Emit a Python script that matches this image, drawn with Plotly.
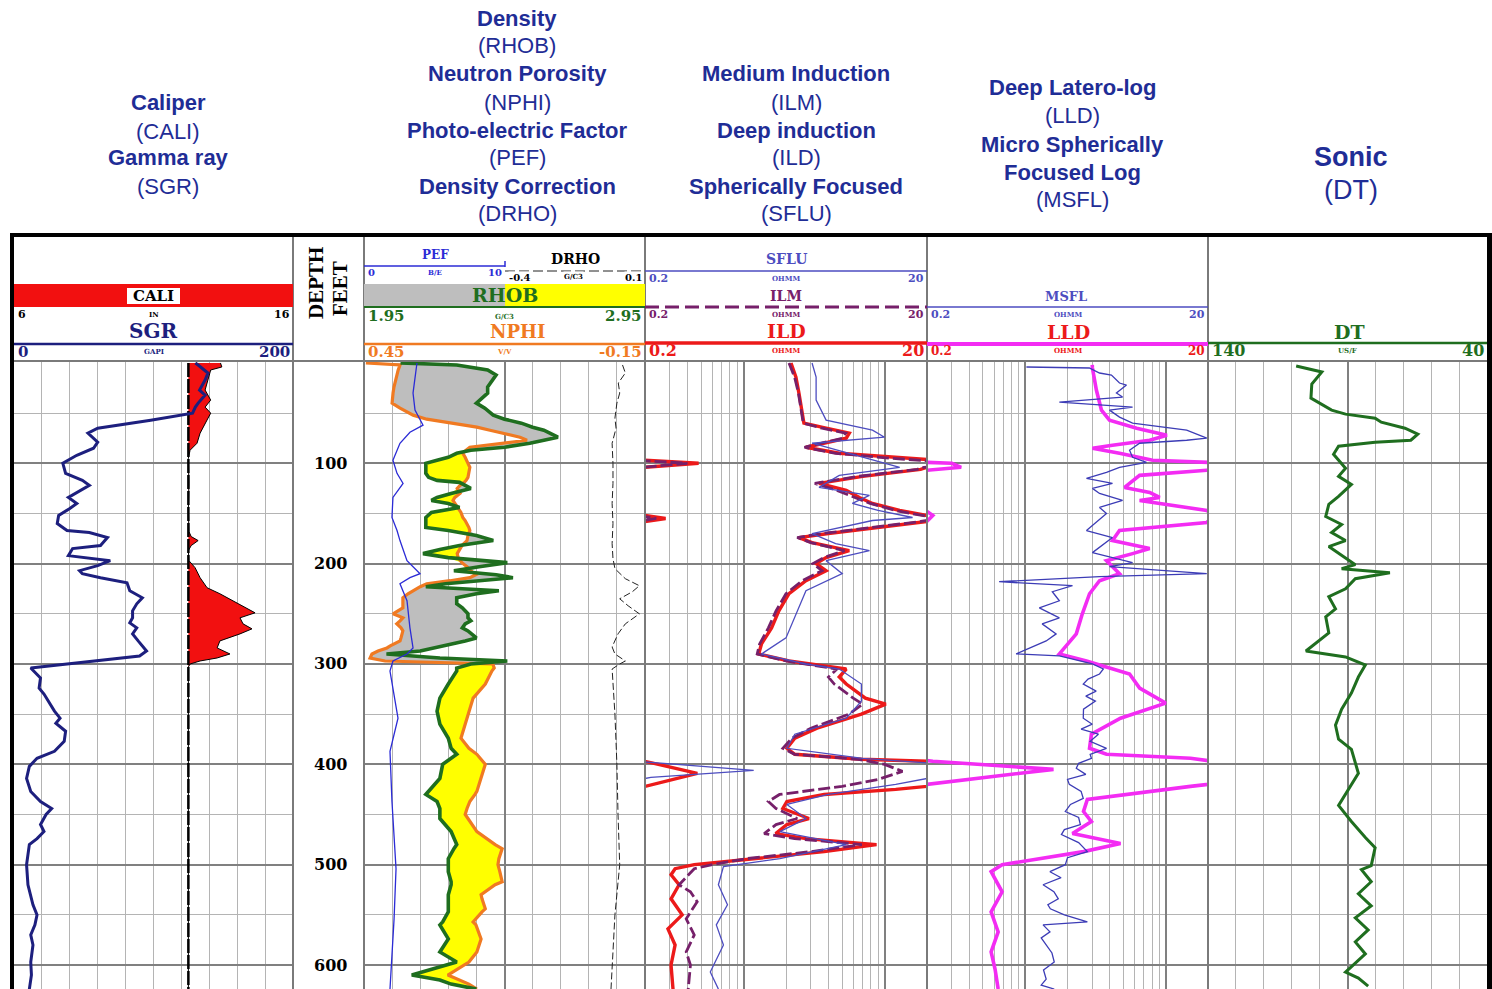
import math
import plotly.graph_objects as go

# ------------------------------------------------------------------
# Log readings: (depth ft, value)
# ------------------------------------------------------------------
SGR = [(0, 130), (2, 132), (10, 139), (17, 137), (27, 133), (32, 137), (40, 132), (44, 130), (50, 128),
       (57, 98), (65, 60), (70, 53), (79, 60), (85, 57), (92, 45), (100, 35), (110, 37), (117, 49),
       (122, 54), (129, 45), (134, 39), (140, 45), (145, 40), (152, 32), (160, 31), (167, 38), (169, 54),
       (174, 67), (182, 62), (185, 42), (192, 39), (197, 69), (202, 60), (207, 47), (210, 49), (214, 62),
       (219, 81), (227, 83), (234, 92), (240, 88), (247, 85), (254, 85), (259, 83), (264, 88), (270, 85),
       (277, 89), (287, 95), (292, 90), (304, 12), (314, 19), (324, 18), (330, 21.5), (347, 29), (354, 33),
       (359, 30), (367, 37), (377, 36), (387, 29), (394, 16.5), (402, 11), (414, 9), (427, 12), (437, 19),
       (444, 27), (450, 23), (460, 19), (467, 21.5), (474, 16.5), (480, 11), (500, 9), (520, 10),
       (540, 13.6), (550, 16.5), (560, 15), (570, 12), (580, 13.6), (597, 12), (610, 12.5), (624, 11)]

CALI = [(0, 13.4), (4, 13.45), (7, 13.05), (17, 12.95), (27, 12.85), (37, 13.05), (44, 12.85), (50, 13.05),
        (60, 12.85), (70, 12.67), (80, 12.56), (87, 12.31), (95, 12.25), (120, 12.27), (145, 12.25),
        (168, 12.27), (173, 12.35), (177, 12.6), (182, 12.35), (187, 12.25), (197, 12.27), (204, 12.49),
        (214, 12.67), (224, 12.92), (230, 13.38), (237, 13.85), (244, 14.35), (249, 14.64), (254, 14.1),
        (260, 14.21), (265, 14.53), (270, 14.1), (277, 13.38), (284, 13.28), (290, 13.74), (294, 13.28),
        (297, 12.67), (300, 12.31), (303, 12.25), (400, 12.26), (500, 12.25), (624, 12.25)]
BIT_SIZE = 12.25

RHOB = [(0, 2.08), (2, 2.28), (7, 2.39), (12, 2.42), (24, 2.39), (30, 2.39), (40, 2.35), (45, 2.38),
        (52, 2.41), (56, 2.45), (60, 2.51), (64, 2.55), (67, 2.59), (70, 2.61), (74, 2.64), (77, 2.59),
        (80, 2.54), (84, 2.45), (87, 2.33), (90, 2.28), (94, 2.25), (97, 2.21), (100, 2.17), (104, 2.17),
        (110, 2.17), (114, 2.18), (117, 2.21), (119, 2.29), (122, 2.31), (125, 2.33), (130, 2.26),
        (134, 2.21), (137, 2.19), (140, 2.25), (144, 2.29), (147, 2.22), (149, 2.19), (154, 2.17),
        (157, 2.17), (164, 2.17), (167, 2.25), (172, 2.35), (177, 2.41), (182, 2.29), (186, 2.22),
        (190, 2.16), (194, 2.25), (199, 2.46), (203, 2.36), (207, 2.27), (211, 2.42), (214, 2.48),
        (217, 2.36), (220, 2.24), (223, 2.17), (227, 2.43), (230, 2.35), (234, 2.28), (240, 2.28),
        (244, 2.30), (250, 2.32), (254, 2.32), (257, 2.33), (260, 2.31), (264, 2.30), (267, 2.32),
        (274, 2.35), (277, 2.31), (282, 2.23), (284, 2.20), (287, 2.15), (290, 2.03), (294, 2.22),
        (297, 2.46), (300, 2.33), (304, 2.28), (307, 2.28), (320, 2.25), (334, 2.22), (347, 2.21),
        (360, 2.22), (374, 2.25), (384, 2.26), (390, 2.28), (400, 2.23), (414, 2.22), (427, 2.18),
        (430, 2.17), (437, 2.21), (444, 2.22), (450, 2.22), (454, 2.22), (467, 2.26), (480, 2.28),
        (484, 2.27), (494, 2.25), (500, 2.25), (507, 2.25), (517, 2.26), (520, 2.26), (530, 2.25),
        (534, 2.25), (544, 2.25), (547, 2.25), (557, 2.23), (560, 2.22), (574, 2.25), (587, 2.22),
        (597, 2.28), (610, 2.12), (615, 2.22), (619, 2.26), (624, 2.35)]

NPHI = [(0, 0.446), (2, 0.373), (7, 0.377), (12, 0.380), (24, 0.386), (30, 0.388), (40, 0.390), (45, 0.373),
        (52, 0.345), (56, 0.316), (60, 0.260), (64, 0.209), (67, 0.181), (70, 0.155), (74, 0.117),
        (77, 0.102), (80, 0.160), (84, 0.224), (87, 0.232), (90, 0.239), (94, 0.234), (97, 0.230),
        (100, 0.228), (104, 0.224), (110, 0.226), (114, 0.228), (117, 0.232), (119, 0.236), (122, 0.245),
        (125, 0.251), (130, 0.245), (134, 0.256), (137, 0.260), (140, 0.256), (144, 0.249), (147, 0.245),
        (149, 0.243), (154, 0.239), (157, 0.234), (164, 0.226), (167, 0.224), (172, 0.228), (177, 0.230),
        (182, 0.241), (186, 0.247), (190, 0.251), (194, 0.249), (199, 0.241), (203, 0.230), (207, 0.222),
        (211, 0.211), (214, 0.224), (217, 0.266), (220, 0.316), (223, 0.330), (227, 0.345), (230, 0.356),
        (234, 0.367), (240, 0.367), (244, 0.367), (250, 0.388), (254, 0.367), (257, 0.373), (260, 0.380),
        (264, 0.371), (267, 0.367), (274, 0.371), (277, 0.373), (282, 0.394), (284, 0.401), (287, 0.420),
        (290, 0.433), (294, 0.437), (297, 0.405), (300, 0.175), (304, 0.172), (307, 0.177), (320, 0.191),
        (334, 0.217), (347, 0.226), (360, 0.234), (374, 0.243), (384, 0.226), (390, 0.209), (400, 0.191),
        (414, 0.200), (427, 0.209), (430, 0.213), (437, 0.224), (444, 0.230), (450, 0.234), (454, 0.228),
        (467, 0.209), (480, 0.170), (484, 0.155), (494, 0.162), (500, 0.164), (507, 0.160), (517, 0.155),
        (520, 0.170), (530, 0.200), (534, 0.198), (544, 0.191), (547, 0.198), (557, 0.217), (560, 0.211),
        (574, 0.200), (587, 0.209), (597, 0.226), (610, 0.271), (615, 0.245), (619, 0.226), (624, 0.209)]

PEF = [(0, 3.77), (30, 3.49), (47, 3.63), (62, 4.2), (69, 3.27), (80, 2.56), (97, 2.06), (110, 2.35),
       (120, 2.78), (134, 2.06), (154, 1.99), (167, 2.35), (177, 2.56), (197, 3.06), (210, 3.99),
       (214, 3.27), (220, 2.56), (237, 3.06), (264, 3.27), (284, 3.49), (290, 3.06), (297, 2.06),
       (307, 1.85), (354, 2.42), (387, 1.85), (437, 1.99), (504, 2.28), (554, 2.14), (624, 1.85)]

DRHO = [(2, 0.02), (10, 0.03), (20, 0.005), (30, 0.01), (40, 0.0), (55, -0.007), (65, -0.003), (80, -0.017),
        (100, -0.014), (120, -0.014), (140, -0.017), (160, -0.014), (180, -0.017), (195, -0.014),
        (205, -0.007), (215, 0.03), (222, 0.08), (228, 0.055), (235, 0.01), (242, 0.04), (250, 0.08),
        (260, 0.03), (270, 0.004), (283, -0.017), (290, -0.007), (297, 0.03), (300, 0.01), (305, -0.017),
        (350, -0.007), (400, 0.0), (450, 0.004), (500, 0.01), (550, -0.007), (600, -0.017), (624, -0.021)]

ILD = [(0, 2.17), (14, 2.35), (30, 2.47), (47, 2.6), (60, 2.68), (65, 3.85), (70, 5.62), (75, 5.35),
       (84, 2.77), (90, 4.77), (95, 12.8), (97, 20), (100, 48), (104, 20), (106, 18), (113, 7), (120, 3.43),
       (127, 5.35), (134, 6.63), (140, 8.21), (147, 12.8), (152, 20), (155, 28), (158, 20), (163, 10),
       (170, 4), (174, 2.47), (179, 3.06), (187, 5.62), (194, 3.85), (200, 3.27), (207, 3.85), (217, 2.77),
       (230, 2.1), (247, 1.78), (264, 1.58), (280, 1.34), (290, 1.28), (297, 2.1), (305, 5.35), (313, 4.77),
       (320, 5.35), (334, 7.31), (340, 10.2), (350, 6.85), (364, 3.32), (374, 2.31), (384, 2.03),
       (390, 2.31), (395, 6.85), (397, 20), (409, 47), (422, 20), (425, 12), (430, 3.73), (437, 2.03),
       (444, 1.9), (454, 2.91), (460, 2.03), (469, 1.69), (474, 2.77), (480, 8.77), (487, 3.73),
       (494, 1.10), (500, 0.447), (504, 0.327), (510, 0.306), (520, 0.349), (534, 0.306), (550, 0.367),
       (564, 0.291), (580, 0.327), (600, 0.306), (624, 0.316)]

ILM = [(0, 2.1), (14, 2.3), (30, 2.45), (47, 2.55), (60, 2.65), (65, 3.6), (70, 5.3), (75, 5.0), (84, 2.7),
       (90, 4.5), (95, 11), (97, 18), (100, 40), (104, 19), (106, 17), (113, 6.5), (120, 3.2), (127, 4.6),
       (134, 6.2), (140, 7.9), (147, 12), (152, 18), (155, 24), (158, 18), (163, 9), (170, 3.6), (174, 2.4),
       (179, 3.0), (187, 5.2), (194, 3.7), (200, 3.1), (207, 3.6), (217, 2.6), (230, 2.0), (247, 1.7),
       (264, 1.5), (280, 1.3), (290, 1.25), (297, 2.0), (305, 4.6), (313, 4.0), (320, 4.4), (334, 6.0),
       (340, 7.0), (350, 5.6), (364, 3.0), (374, 2.2), (384, 1.9), (390, 2.3), (395, 6.5), (400, 10),
       (407, 13.4), (415, 9), (422, 5), (430, 1.8), (437, 1.5), (444, 1.7), (454, 2.4), (460, 1.7),
       (469, 1.4), (474, 2.3), (480, 6.9), (487, 3.0), (494, 1.05), (500, 0.6), (504, 0.447), (520, 0.349),
       (527, 0.42), (537, 0.469), (554, 0.392), (570, 0.447), (587, 0.392), (600, 0.42), (624, 0.405)]

SFLU = [(0, 3.06), (14, 3.27), (37, 3.27), (57, 3.85), (67, 8.21), (74, 10), (80, 3.06), (90, 5.5), (97, 8.21),
        (104, 12.8), (112, 4.77), (124, 3.43), (132, 7.81), (140, 5.91), (147, 9), (154, 15.8), (157, 8.21),
        (170, 3.06), (180, 4.5), (187, 7.81), (197, 3.85), (210, 5.01), (227, 2.77), (250, 2.35), (274, 2.0),
        (290, 1.34), (300, 2.77), (305, 4.77), (320, 6.85), (337, 6.85), (354, 5.35), (370, 2.31),
        (384, 2.03), (394, 7), (398, 22), (406, 118), (413, 22), (420, 12), (430, 4), (440, 2.03),
        (454, 2.77), (467, 1.81), (480, 5.35), (494, 1.81), (502, 0.72), (520, 0.663), (540, 0.769),
        (560, 0.641), (580, 0.72), (607, 0.581), (624, 0.663)]

LLD = [(2, 3.0), (5, 3.01), (27, 3.21), (47, 3.49), (57, 3.98), (65, 6.21), (72, 10.2), (77, 7.69), (82, 4.18),
       (85, 3.01), (90, 4.69), (97, 8.07), (100, 30), (104, 35), (107, 19.6), (112, 6.52), (124, 5.1),
       (129, 7.69), (134, 9.06), (137, 6.52), (147, 19.6), (152, 22), (159, 19.6), (167, 4.69), (177, 4.18),
       (185, 7.69), (190, 5.81), (197, 3.79), (210, 4.69), (217, 3.38), (230, 2.87), (250, 2.55),
       (270, 2.31), (290, 1.75), (297, 2.73), (310, 5.53), (324, 6.52), (339, 10.0), (354, 4.77),
       (370, 2.96), (384, 2.87), (390, 3.79), (394, 15), (397, 22), (405, 159), (419, 22), (422, 15),
       (435, 2.77), (447, 2.6), (457, 2.96), (469, 2.17), (479, 4.77), (487, 2.6), (500, 0.685),
       (507, 0.572), (527, 0.685), (547, 0.572), (567, 0.642), (587, 0.572), (604, 0.61), (624, 0.642)]

MSFL = [(4, 1.02), (5, 2.86), (10, 3.38), (12, 4.11), (20, 4.69), (22, 5.26), (30, 4.46), (34, 4.93), (39, 1.75),
        (44, 5.81), (47, 3.98), (54, 4.69), (60, 5.81), (67, 14.1), (75, 19.6), (77, 14.1), (80, 6.52),
        (87, 5.53), (94, 5.81), (99, 7.3), (104, 4.69), (109, 3.79), (115, 2.73), (120, 4.18), (125, 3.01),
        (130, 3.38), (137, 4.93), (144, 3.38), (150, 3.79), (167, 2.73), (174, 4.18), (189, 3.01),
        (199, 5.81), (203, 3.98), (210, 19.6), (213, 3.38), (218, 0.652), (222, 2.17), (228, 1.56),
        (237, 1.75), (244, 1.26), (254, 1.75), (260, 1.32), (270, 1.66), (277, 1.41), (290, 0.862),
        (292, 1.75), (300, 3.01), (305, 3.6), (310, 3.38), (315, 2.8), (320, 2.59), (327, 3.2), (332, 2.7),
        (337, 3.16), (345, 2.6), (354, 2.59), (360, 3.0), (365, 2.5), (370, 3.32), (377, 2.9), (384, 3.79),
        (390, 2.9), (394, 2.96), (399, 2.4), (404, 2.31), (410, 2.7), (415, 2.0), (420, 2.06), (427, 2.5),
        (434, 2.59), (440, 2.1), (447, 1.93), (453, 2.4), (460, 2.47), (465, 1.9), (470, 1.81), (478, 2.4),
        (487, 2.77), (493, 2.0), (500, 1.93), (507, 1.5), (513, 1.8), (520, 1.34), (527, 1.6), (534, 1.72),
        (540, 1.45), (544, 1.51), (550, 1.9), (557, 2.77), (560, 1.34), (567, 1.5), (573, 1.3), (580, 1.41),
        (588, 1.55), (597, 1.61), (605, 1.35), (614, 1.41), (620, 1.3), (624, 1.61)]

DT = [(3, 108.4), (9, 99.2), (21, 102.8), (35, 103.1), (47, 95.7), (51, 90.7), (55, 80.1), (59, 77.9),
      (65, 69.4), (71, 64.8), (77, 67.3), (79, 80.1), (83, 93.2), (91, 95.0), (105, 90.7), (113, 93.2),
      (121, 88.6), (133, 93.2), (141, 96.7), (153, 97.8), (161, 92.1), (169, 95.7), (177, 90.7), (183, 96.7),
      (201, 87.2), (205, 92.1), (209, 74.8), (215, 87.2), (225, 90.7), (233, 96.7), (245, 94.3), (253, 97.8),
      (269, 96.7), (277, 100.3), (287, 104.9), (293, 90.7), (301, 83.6), (313, 86.1), (329, 88.6),
      (345, 92.1), (361, 94.3), (375, 93.2), (385, 88.6), (409, 86.1), (429, 90.7), (441, 93.2), (457, 88.6),
      (473, 83.6), (483, 80.1), (501, 81.5), (505, 85.0), (517, 81.5), (529, 86.1), (541, 81.5), (553, 87.2),
      (565, 82.6), (577, 87.2), (589, 83.6), (607, 90.7), (613, 86.1), (621, 82.6)]

DEPTH_MARKS = [100, 200, 300, 400, 500, 600]

# ------------------------------------------------------------------
# Page geometry (pixels) and styling
# ------------------------------------------------------------------
W, H = 1492, 989


def fx(px):
    return px / W


def fy(py):
    return 1 - py / H


TRACK1 = (14, 293)
TRACK3 = (364, 645)
TRACK4 = (645, 927)
TRACK5 = (927, 1208)
TRACK6 = (1208, 1487)
DIVIDERS = [293, 364, 645, 927, 1208]
PLOT_TOP = 362

NAVY = '#1d1f7e'
CALI_RED = '#f21010'
ORANGE = '#f07a22'
GREEN = '#1f6e1f'
PEF_BLUE = '#2b2bd6'
ILD_RED = '#ec1a1a'
ILM_PURPLE = '#76206a'
SLATE = '#4d4dc0'
MAGENTA = '#f32cf3'
MSFL_BLUE = '#3c3cb6'
TITLE_BLUE = '#1f2d96'
GRID_MINOR = '#b4b4b4'
GRID_MAJOR = '#808080'

SERIF = 'DejaVu Serif'
SANS = 'Liberation Sans'

fig = go.Figure()


def split(pairs):
    return [p[0] for p in pairs], [p[1] for p in pairs]


def curve(depths, values, axis, color, width, dash='solid', **kw):
    fig.add_trace(go.Scatter(x=values, y=depths, xaxis=axis, yaxis='y', mode='lines',
                             line=dict(color=color, width=width, dash=dash),
                             hoverinfo='skip', showlegend=False, **kw))


def beyond(values, limit):
    """Keep only samples above the scale limit (plus their neighbours) for the wrap-around curve."""
    n = len(values)
    out = []
    for i, v in enumerate(values):
        near = any(values[j] > limit for j in (i - 1, i, i + 1) if 0 <= j < n)
        out.append(v if near else None)
    return out


# ---------------- Track 1: caliper (base axis) + gamma ray ----------------
cd, cv = split(CALI)
curve(cd, [BIT_SIZE] * len(cd), 'x', 'rgba(0,0,0,0)', 0)
curve(cd, cv, 'x', 'black', 1, fill='tonextx', fillcolor=CALI_RED)
curve(cd, [BIT_SIZE] * len(cd), 'x', 'black', 2.5, dash='14px,2px')
gd, gv = split(SGR)
curve(gd, gv, 'x2', NAVY, 3)

# ---------------- Track 3: neutron (base axis), density, PEF, DRHO ----------------
nd, nv = split(NPHI)
_, rv = split(RHOB)
# density re-expressed on the neutron scale (1.95 g/cc <-> 0.45 v/v, 2.95 g/cc <-> -0.15 v/v)
rhob_on_nphi = [0.45 - (r - 1.95) * 0.6 for r in rv]
curve(nd, nv, 'x3', 'rgba(0,0,0,0)', 0)
curve(nd, [max(a, b) for a, b in zip(nv, rhob_on_nphi)], 'x3', 'rgba(0,0,0,0)', 0,
      fill='tonextx', fillcolor='#ffff00')
curve(nd, nv, 'x3', 'rgba(0,0,0,0)', 0)
curve(nd, [min(a, b) for a, b in zip(nv, rhob_on_nphi)], 'x3', 'rgba(0,0,0,0)', 0,
      fill='tonextx', fillcolor='#bebebe')
curve(nd, nv, 'x3', ORANGE, 3.2)
curve(nd, rv, 'x4', GREEN, 3.6)
pd, pv = split(PEF)
curve(pd, pv, 'x5', PEF_BLUE, 1.3)
dd, dv = split(DRHO)
curve(dd, dv, 'x6', '#222222', 1, dash='7px,3px')

# ---------------- Track 4: induction / SFL (log) ----------------
for pairs, color, width, dash in [(ILD, ILD_RED, 3.4, 'solid'), (ILM, ILM_PURPLE, 2.8, '12px,4px'),
                                  (SFLU, SLATE, 1.3, 'solid')]:
    d, v = split(pairs)
    curve(d, v, 'x7', color, width, dash)
    curve(d, beyond(v, 20), 'x8', color, width, dash)

# ---------------- Track 5: laterolog / MSFL (log) ----------------
ld, lv = split(LLD)
curve(ld, lv, 'x9', MAGENTA, 3.6)
curve(ld, beyond(lv, 20), 'x10', MAGENTA, 3.6)
md, mv = split(MSFL)
curve(md, mv, 'x9', MSFL_BLUE, 1.3)

# ---------------- Track 6: sonic ----------------
td, tv = split(DT)
curve(td, tv, 'x11', GREEN, 3)

# ------------------------------------------------------------------
# Axes
# ------------------------------------------------------------------
HIDE = dict(showticklabels=False, ticks='', zeroline=False, showline=False)


def track_axis(track, rng, **kw):
    a = dict(domain=[fx(track[0]), fx(track[1])], range=rng, anchor='y', showgrid=True, **HIDE)
    a.update(kw)
    return a


def overlay_axis(base, rng, **kw):
    a = dict(overlaying=base, range=rng, anchor='y', visible=False, showgrid=False)
    a.update(kw)
    return a


LOG_MAIN = [math.log10(0.2), math.log10(20)]
LOG_BACKUP = [math.log10(20), math.log10(2000)]
log_grid = dict(type='log', dtick=1, gridcolor=GRID_MAJOR, gridwidth=2,
                minor=dict(dtick='D1', showgrid=True, gridcolor=GRID_MINOR, gridwidth=1))

fig.update_layout(
    width=W, height=H, margin=dict(l=0, r=0, t=0, b=0),
    paper_bgcolor='white', plot_bgcolor='white', showlegend=False,
    xaxis=track_axis(TRACK1, [6, 16], tick0=6, dtick=1, gridcolor=GRID_MINOR, gridwidth=1),
    xaxis2=overlay_axis('x', [0, 200]),
    xaxis3=track_axis(TRACK3, [0.45, -0.15], tick0=0.45, dtick=0.3, gridcolor=GRID_MAJOR, gridwidth=2,
                      minor=dict(tick0=0.45, dtick=0.06, showgrid=True, gridcolor=GRID_MINOR, gridwidth=1)),
    xaxis4=overlay_axis('x3', [1.95, 2.95]),
    xaxis5=overlay_axis('x3', [0, 20]),
    xaxis6=overlay_axis('x3', [-0.9, 0.1]),
    xaxis7=track_axis(TRACK4, LOG_MAIN, **log_grid),
    xaxis8=overlay_axis('x7', LOG_BACKUP, type='log'),
    xaxis9=track_axis(TRACK5, LOG_MAIN, **log_grid),
    xaxis10=overlay_axis('x9', LOG_BACKUP, type='log'),
    xaxis11=track_axis(TRACK6, [140, 40], tick0=40, dtick=50, gridcolor=GRID_MAJOR, gridwidth=2,
                       minor=dict(tick0=40, dtick=10, showgrid=True, gridcolor=GRID_MINOR, gridwidth=1)),
    yaxis=dict(domain=[0, fy(PLOT_TOP)], range=[623.9, -0.96], tick0=0, dtick=100, showgrid=True,
               gridcolor=GRID_MAJOR, gridwidth=2,
               minor=dict(tick0=0, dtick=50, showgrid=True, gridcolor=GRID_MINOR, gridwidth=1), **HIDE),
)

# ------------------------------------------------------------------
# Frame, header boxes and header lines
# ------------------------------------------------------------------
shapes = []


def rect(x0, y0, x1, y1, color):
    shapes.append(dict(type='rect', xref='paper', yref='paper', x0=fx(x0), x1=fx(x1), y0=fy(y1), y1=fy(y0),
                       fillcolor=color, line=dict(width=0), layer='above'))


def hline(x0, x1, y, color, width, dash='solid'):
    shapes.append(dict(type='line', xref='paper', yref='paper', x0=fx(x0), x1=fx(x1), y0=fy(y), y1=fy(y),
                       line=dict(color=color, width=width, dash=dash), layer='above'))


def vline(x, y0, y1, color, width):
    shapes.append(dict(type='line', xref='paper', yref='paper', x0=fx(x), x1=fx(x), y0=fy(y0), y1=fy(y1),
                       line=dict(color=color, width=width), layer='above'))


for x in DIVIDERS:
    vline(x, 237, H, '#7a7a7a', 2)
hline(14, 1487, 361, '#7a7a7a', 2)

# track 1 header
rect(14, 284, 293, 307, CALI_RED)
rect(127, 288, 180, 304, 'white')
hline(14, 293, 344, NAVY, 2.5)
# track 3 header
hline(364, 505, 266, PEF_BLUE, 1.5)
vline(505, 261, 267, PEF_BLUE, 1.5)
hline(505, 645, 271, '#222222', 1, dash='10px,4px')
rect(364, 284, 505, 306, '#bebebe')
rect(505, 284, 645, 306, '#ffff00')
hline(364, 645, 307, GREEN, 2)
hline(364, 645, 344, ORANGE, 2.5)
# track 4 header
hline(645, 927, 271, SLATE, 1.5)
hline(645, 927, 307, ILM_PURPLE, 3, dash='14px,6px')
hline(645, 927, 343, ILD_RED, 3.5)
# track 5 header
hline(927, 1208, 307, SLATE, 1.5)
hline(927, 1208, 344, MAGENTA, 4)
# track 6 header
hline(1208, 1487, 343, GREEN, 2.5)

# outer frame
rect(10, 233, 14, H, 'black')
rect(10, 233, W, 237, 'black')
rect(1487, 233, W, H, 'black')

fig.update_layout(shapes=shapes)

# ------------------------------------------------------------------
# Text
# ------------------------------------------------------------------
ann = []


def text(x, y, s, size, color, family=SERIF, anchor='center', bold=True, bg=None, angle=0):
    ann.append(dict(x=fx(x), y=fy(y), xref='paper', yref='paper', text=f'<b>{s}</b>' if bold else s,
                    showarrow=False, xanchor=anchor, yanchor='middle', textangle=angle,
                    font=dict(family=family, size=size, color=color), borderpad=0,
                    bgcolor=bg if bg else 'rgba(0,0,0,0)'))


def scale(x0, x1, y, left, unit, right, size, color, usize=7):
    text(x0 + 3, y, left, size, color, anchor='left')
    text((x0 + x1) / 2, y, unit, usize, color)
    text(x1 - 2, y, right, size, color, anchor='right')


# track titles
TITLES = [
    (168, [('Caliper', 103, True), ('(CALI)', 131, False), ('Gamma ray', 158, True), ('(SGR)', 186, False)], 22),
    (517, [('Density', 18, True), ('(RHOB)', 46, False), ('Neutron Porosity', 74, True), ('(NPHI)', 102, False),
           ('Photo-electric Factor', 130, True), ('(PEF)', 158, False), ('Density Correction', 186, True),
           ('(DRHO)', 213, False)], 22),
    (796, [('Medium Induction', 74, True), ('(ILM)', 102, False), ('Deep induction', 130, True),
           ('(ILD)', 158, False), ('Spherically Focused', 186, True), ('(SFLU)', 213, False)], 22),
    (1072, [('Deep Latero-log', 88, True), ('(LLD)', 116, False), ('Micro Spherically', 144, True),
            ('Focused Log', 172, True), ('(MSFL)', 200, False)], 22),
    (1351, [('Sonic', 157, True), ('(DT)', 190, False)], 27),
]
for cx, lines, size in TITLES:
    for s, y, b in lines:
        text(cx, y, s, size, TITLE_BLUE, family=SANS, bold=b)

# track 1 header text
text(153, 296, 'CALI', 15, 'black')
scale(*TRACK1, 314, '6', 'IN', '16', 11, 'black')
text(153, 331, 'SGR', 20, NAVY)
scale(*TRACK1, 352, '0', 'GAPI', '200', 15, NAVY)

# depth header
text(316, 283, 'DEPTH', 21, 'black', family='Liberation Serif', angle=-90)
text(340, 289, 'FEET', 21, 'black', family='Liberation Serif', angle=-90)

# track 3 header text
text(435, 255, 'PEF', 12, PEF_BLUE)
scale(364, 505, 273, '0', 'B/E', '10', 10, PEF_BLUE)
text(575, 259, 'DRHO', 14, 'black')
text(508, 277, '-0.4', 10, 'black', anchor='left', bg='white')
text(573, 276, 'G/C3', 7, 'black', bg='white')
text(643, 277, '0.1', 10, 'black', anchor='right', bg='white')
text(505, 295, 'RHOB', 19, GREEN)
scale(*TRACK3, 316, '1.95', 'G/C3', '2.95', 15, GREEN)
text(517, 331, 'NPHI', 18, ORANGE)
scale(*TRACK3, 352, '0.45', 'V/V', '-0.15', 15, ORANGE)

# track 4 header text
text(786, 259, 'SFLU', 14, SLATE)
scale(*TRACK4, 278, '0.2', 'OHMM', '20', 11, SLATE)
text(786, 296, 'ILM', 14, ILM_PURPLE)
scale(*TRACK4, 314, '0.2', 'OHMM', '20', 11, ILM_PURPLE)
text(786, 331, 'ILD', 19, ILD_RED)
scale(*TRACK4, 351, '0.2', 'OHMM', '20', 16, ILD_RED)

# track 5 header text
text(1066, 296, 'MSFL', 13, SLATE)
scale(*TRACK5, 314, '0.2', 'OHMM', '20', 11, SLATE)
text(1068, 332, 'LLD', 19, ILD_RED)
scale(*TRACK5, 351, '0.2', 'OHMM', '20', 12, ILD_RED)

# track 6 header text
text(1349, 332, 'DT', 19, GREEN)
scale(*TRACK6, 351, '140', 'US/F', '40', 16, GREEN)

# depth numbers
for d in DEPTH_MARKS:
    ann.append(dict(x=fx(330), y=d, xref='paper', yref='y', text=f'<b>{d}</b>', showarrow=False,
                    xanchor='center', yanchor='middle', font=dict(family=SERIF, size=16, color='black')))

fig.update_layout(annotations=ann)

fig.write_html('out.html')
